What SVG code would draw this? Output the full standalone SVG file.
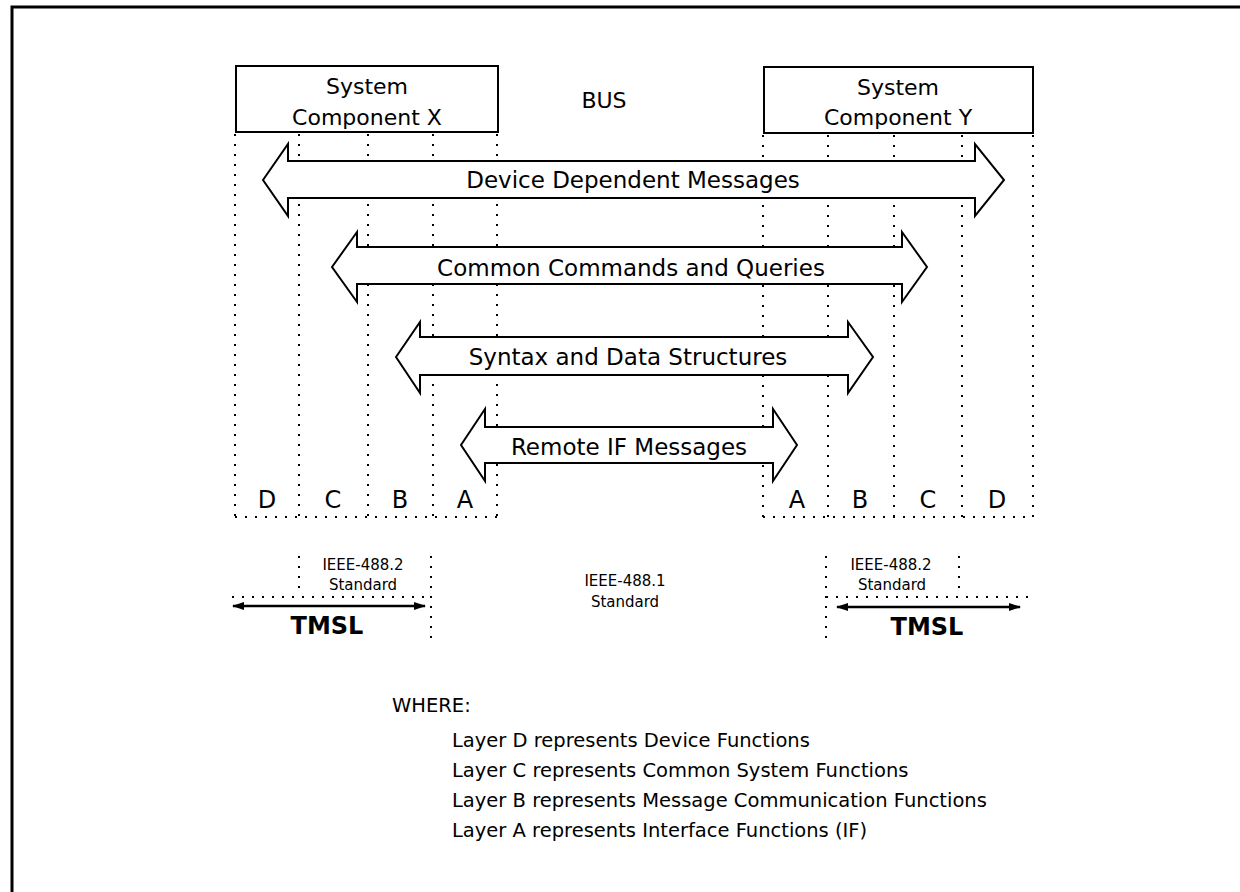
<svg xmlns="http://www.w3.org/2000/svg" width="1240" height="892" viewBox="0 0 1240 892">
<defs>
<style>
.dot{stroke:#000;stroke-width:2;stroke-dasharray:2 8;fill:none}
.box{fill:#fff;stroke:#000;stroke-width:2}
.arr{fill:#fff;stroke:#000;stroke-width:2;stroke-linejoin:miter}
text{font-family:"DejaVu Sans","Liberation Sans",sans-serif;fill:#000}
.big{font-size:22px;text-anchor:middle}
.lbl{font-size:23px;text-anchor:middle}
.ltr{font-size:24px;text-anchor:middle}
.sm{font-size:15px;text-anchor:middle}
.tmsl{font-size:24px;font-weight:bold;text-anchor:middle}
.leg{font-size:19.5px}
.tm{stroke:#000;stroke-width:2.5;fill:none}
</style>
<marker id="ah" viewBox="0 0 12 8" refX="11" refY="4" markerWidth="12" markerHeight="8" markerUnits="userSpaceOnUse" orient="auto-start-reverse">
<path d="M0,0 L12,4 L0,8 Z" fill="#000"/>
</marker>
</defs>
<rect width="1240" height="892" fill="#fff"/>
<path d="M12,892 V7 H1240" fill="none" stroke="#000" stroke-width="3"/>

<g id="layer-grid">
<path class="dot" d="M235,134 V517 M299,134 V517 M368,134 V517 M433,134 V517 M497,134 V517"/>
<path class="dot" d="M763,135 V517 M828,135 V517 M894,135 V517 M962,135 V517 M1033,135 V517"/>
<path class="dot" d="M235,517 H497 M763,517 H1033"/>
</g>

<g id="component-x">
<rect class="box" x="236" y="66" width="262" height="66"/>
<text class="big" x="367" y="94">System</text>
<text class="big" x="367" y="125">Component X</text>
</g>
<g id="component-y">
<rect class="box" x="764" y="67" width="269" height="66"/>
<text class="big" x="898" y="95">System</text>
<text class="big" x="898" y="125">Component Y</text>
</g>
<g id="bus">
<text class="big" x="604" y="108">BUS</text>
</g>

<g id="connectors">
<g id="device-dependent">
<path class="arr" d="M263,180 L288,144 V161 H975 V144 L1004,180 L975,216 V198 H288 V216 Z"/>
<text class="lbl" x="633" y="188">Device Dependent Messages</text>
</g>
<g id="common-commands">
<path class="arr" d="M332,267 L357,232 V247 H902 V232 L927,267 L902,302 V284 H357 V302 Z"/>
<text class="lbl" x="631" y="276">Common Commands and Queries</text>
</g>
<g id="syntax">
<path class="arr" d="M396,357 L420,322 V337 H848 V322 L873,357 L848,393 V375 H420 V393 Z"/>
<text class="lbl" x="628" y="365">Syntax and Data Structures</text>
</g>
<g id="remote-if">
<path class="arr" d="M461,445 L485,409 V427 H773 V409 L797,445 L773,481 V463 H485 V481 Z"/>
<text class="lbl" x="629" y="455">Remote IF Messages</text>
</g>
</g>

<g id="layer-labels">
<text class="ltr" x="267" y="508">D</text>
<text class="ltr" x="333" y="508">C</text>
<text class="ltr" x="400" y="508">B</text>
<text class="ltr" x="465" y="508">A</text>
<text class="ltr" x="797" y="508">A</text>
<text class="ltr" x="860" y="508">B</text>
<text class="ltr" x="928" y="508">C</text>
<text class="ltr" x="997" y="508">D</text>
</g>

<g id="left-standard">
<path class="dot" d="M299,556 V588 M431,556 V642 M232,597 H431"/>
<text class="sm" x="363" y="570">IEEE-488.2</text>
<text class="sm" x="363" y="590">Standard</text>
<line class="tm" x1="233" y1="606" x2="425" y2="606" marker-start="url(#ah)" marker-end="url(#ah)"/>
<text class="tmsl" x="327" y="634">TMSL</text>
</g>

<g id="center-standard">
<text class="sm" x="625" y="586">IEEE-488.1</text>
<text class="sm" x="625" y="607">Standard</text>
</g>

<g id="right-standard">
<path class="dot" d="M826,556 V643 M959,556 V592 M826,597 H1033"/>
<text class="sm" x="891" y="570">IEEE-488.2</text>
<text class="sm" x="892" y="590">Standard</text>
<line class="tm" x1="837" y1="607" x2="1020" y2="607" marker-start="url(#ah)" marker-end="url(#ah)"/>
<text class="tmsl" x="927" y="635">TMSL</text>
</g>

<g id="legend">
<text class="leg" x="392" y="712">WHERE:</text>
<text class="leg" x="452" y="747">Layer D represents Device Functions</text>
<text class="leg" x="452" y="777">Layer C represents Common System Functions</text>
<text class="leg" x="452" y="807">Layer B represents Message Communication Functions</text>
<text class="leg" x="452" y="837">Layer A represents Interface Functions (IF)</text>
</g>
</svg>
